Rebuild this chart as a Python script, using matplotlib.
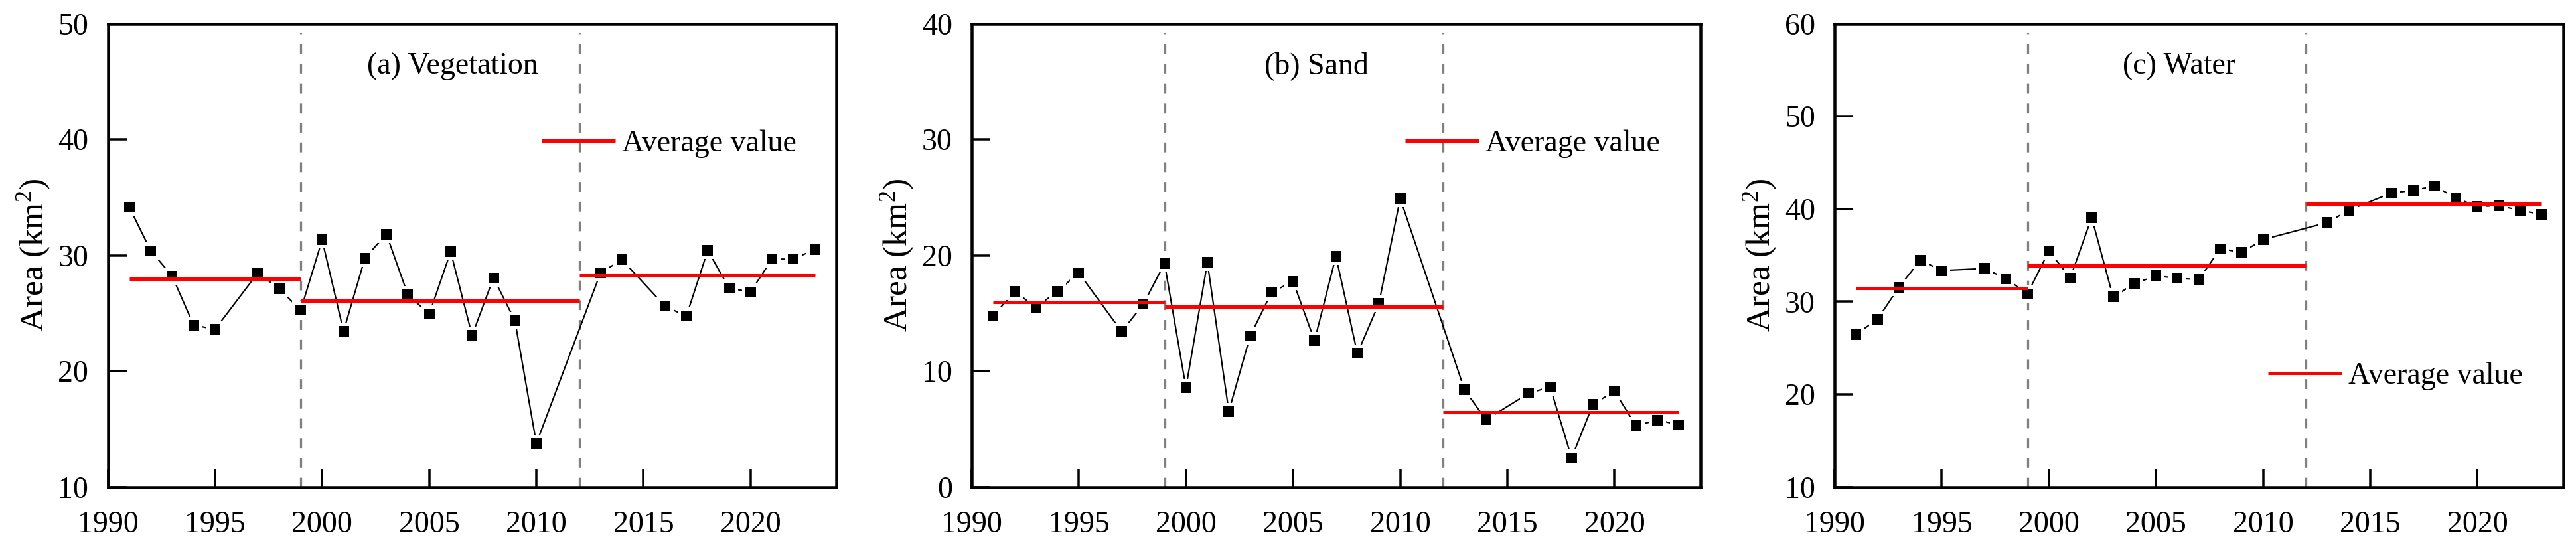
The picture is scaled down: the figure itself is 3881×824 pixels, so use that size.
import matplotlib
matplotlib.use("Agg")
import matplotlib.pyplot as plt

plt.rcParams['font.family'] = ['Liberation Serif', 'DejaVu Serif']
plt.rcParams['mathtext.fontset'] = 'custom'
plt.rcParams['mathtext.rm'] = 'Liberation Serif'
plt.rcParams['mathtext.it'] = 'Liberation Serif:italic'
plt.rcParams['mathtext.bf'] = 'Liberation Serif:bold'

# ---------------- data ----------------
veg_years = [1991, 1992, 1993, 1994, 1995, 1997, 1998, 1999, 2000, 2001, 2002, 2003,
             2004, 2005, 2006, 2007, 2008, 2009, 2010, 2013, 2014, 2016, 2017, 2018,
             2019, 2020, 2021, 2022, 2023]
veg_area = [34.15, 30.39, 28.2, 23.98, 23.6, 28.47, 27.11, 25.25, 31.32, 23.44, 29.76, 31.83,
            26.6, 24.92, 30.3, 23.08, 28.05, 24.35, 13.76, 28.5, 29.61, 25.61, 24.74, 30.42,
            27.14, 26.84, 29.67, 29.67, 30.51]
veg_avg = [27.96, 26.06, 28.23]

sand_years = veg_years
sand_area = [14.74, 16.9, 15.49, 16.9, 18.47, 13.41, 15.76, 19.28, 8.57, 19.37, 6.53, 13.05,
             16.81, 17.74, 12.63, 19.91, 11.52, 15.82, 24.9, 8.39, 5.8, 8.09, 8.63, 2.5,
             7.13, 8.27, 5.29, 5.77, 5.38]
sand_avg = [15.97, 15.55, 6.47]

water_years = veg_years
water_area = [26.47, 28.08, 31.54, 34.47, 33.35, 33.57, 32.48, 30.83, 35.45, 32.56, 39.06, 30.49,
              31.95, 32.78, 32.52, 32.37, 35.71, 35.3, 36.69, 38.53, 39.85, 41.73, 41.99, 42.48,
              41.17, 40.26, 40.34, 39.85, 39.4]
water_avg = [31.43, 33.91, 40.56]

periods = [(1991, 1999), (1999, 2012), (2012, 2023)]
breaks = [1999, 2012]

titles = ['(a) Vegetation', '(b) Sand', '(c) Water']
ylims = [(10, 50), (0, 40), (10, 60)]
xticks = [1990, 1995, 2000, 2005, 2010, 2015, 2020]
legend_y = [0.740, 0.740, 0.239]

series = [(veg_years, veg_area, veg_avg),
          (sand_years, sand_area, sand_avg),
          (water_years, water_area, water_avg)]

# ---------------- figure ----------------
W, H = 3881, 824
fig = plt.figure(figsize=(W / 100, H / 100), dpi=100)
lefts = [162.5, 1464, 2764]
ax_w = 1097.5
bottom_px = 824 - 733.5
ax_h = 698

px = 72 / 100  # points per pixel

for i, (yrs, vals, avgs) in enumerate(series):
    ax = fig.add_axes([lefts[i] / W, bottom_px / H, ax_w / W, ax_h / H])
    ax.set_xlim(1990, 2024)
    ax.set_ylim(*ylims[i])

    for b in breaks:
        ax.axvline(b, ymin=0, ymax=0.98, color='#808080', lw=3.3 * px,
                   dashes=(4.5, 4.5), zorder=1)

    ax.plot(yrs, vals, '-', color='black', lw=2.2 * px, zorder=2)
    ax.plot(yrs, vals, 's', color='white', ms=26 * px, mew=0, zorder=3)
    ax.plot(yrs, vals, 's', color='black', ms=16 * px, mew=0, zorder=4)

    for k, (p0, p1) in enumerate(periods):
        ax.plot([p0, p1], [avgs[k], avgs[k]], color='#ff0000', lw=5 * px,
                solid_capstyle='butt', zorder=5,
                label='Average value' if k == 0 else None)

    ax.text(0.473, 0.908, titles[i], transform=ax.transAxes, ha='center',
            va='center', fontsize=33)

    ax.legend(loc='center left', bbox_to_anchor=(0.595, legend_y[i]),
              frameon=False, fontsize=33, handlelength=2.43,
              handletextpad=0.22, borderpad=0, borderaxespad=0)

    ax.set_xticks(xticks)
    lo, hi = ylims[i]
    ax.set_yticks(list(range(lo, hi + 1, 10)))
    ax.tick_params(axis='both', direction='in', length=28 * px, width=3.5 * px,
                   labelsize=33, top=False, right=False)
    ax.tick_params(axis='x', pad=26)
    ax.tick_params(axis='y', pad=21)
    for s in ax.spines.values():
        s.set_linewidth(4.5 * px)
    ax.set_ylabel(r'$\mathregular{Area\ (km^2)}$', fontsize=37, labelpad=6)

fig.savefig('out.png', dpi=100)
